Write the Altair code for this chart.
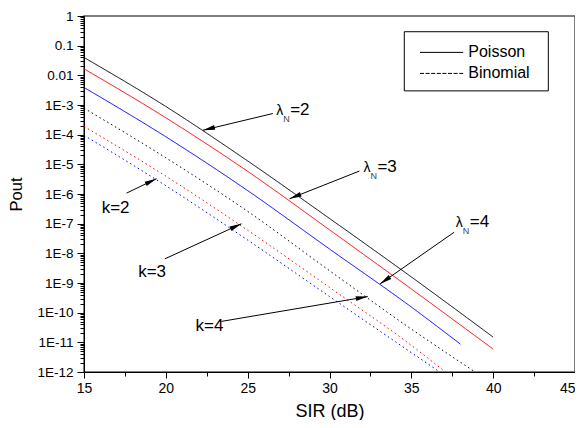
import math
import altair as alt
import pandas as pd

# ---------------- data ----------------
series_names = ["Poisson λN=2", "Poisson λN=3", "Poisson λN=4",
                "Binomial k=2", "Binomial k=3", "Binomial k=4"]
series_model = ["Poisson", "Poisson", "Poisson", "Binomial", "Binomial", "Binomial"]
series_colors = ["#000000", "#ff0000", "#0000ff", "#000000", "#ff0000", "#0000ff"]

sir_p2 = [15, 20, 25, 30, 35, 40]
pout_p2 = [4.0e-2, 8.9e-4, 1.3e-5, 1.5e-7, 1.6e-9, 1.5e-11]
sir_p3 = [15, 20, 25, 30, 35, 40]
pout_p3 = [1.66e-2, 3.7e-4, 5.8e-6, 6.2e-8, 6.3e-10, 5.9e-12]
sir_p4 = [15, 20, 25, 30, 35, 38]
pout_p4 = [3.9e-3, 8.5e-5, 1.3e-6, 1.4e-8, 1.55e-10, 8.7e-12]
sir_b2 = [15, 20, 25, 30, 35, 38.9]
pout_b2 = [7.8e-4, 1.66e-5, 2.6e-7, 2.6e-9, 2.8e-11, 1.0e-12]
sir_b3 = [15, 20, 25, 30, 35, 37]
pout_b3 = [1.9e-4, 4.0e-6, 6.0e-8, 7.1e-10, 7.9e-12, 1.1e-12]
sir_b4 = [15, 20, 25, 30, 35, 37]
pout_b4 = [9.5e-5, 1.9e-6, 2.8e-8, 3.5e-10, 4.5e-12, 8.0e-13]

sir_lists = [sir_p2, sir_p3, sir_p4, sir_b2, sir_b3, sir_b4]
pout_lists = [pout_p2, pout_p3, pout_p4, pout_b2, pout_b3, pout_b4]

x_major = [15, 20, 25, 30, 35, 40, 45]
x_minor = [17.5, 22.5, 27.5, 32.5, 37.5, 42.5]
y_major = [10.0 ** e for e in range(-12, 1)]
y_minor = [k * 10.0 ** e for e in range(-12, 0) for k in range(2, 10)]

# annotation labels (text, anchor SIR, anchor Pout)
lam_text = ["=2", "=3", "=4"]
lam_sir = [26.74, 32.07, 37.72]
lam_pout = [6.7e-4, 8.3e-6, 1.12e-7]
k_text = ["k=2", "k=3", "k=4"]
k_sir = [16.08, 18.31, 21.81]
k_pout = [3.5e-7, 2.3e-9, 3.6e-11]

# arrows: start (SIR, Pout) -> tip (SIR, Pout)
arr_sir0 = [26.54, 31.83, 37.62, 17.60, 19.94, 23.40]
arr_pout0 = [5.16e-4, 5.94e-6, 5.16e-8, 1.07e-6, 6.52e-9, 5.08e-11]
arr_sir1 = [22.27, 27.56, 33.09, 19.43, 24.62, 32.34]
arr_pout1 = [1.41e-4, 6.93e-7, 9.33e-10, 3.29e-6, 9.93e-8, 3.48e-10]

# legend box in data coordinates
leg_box_sir = [34.57, 43.37]
leg_box_pout = [2.95e-1, 2.99e-3]
leg_line_sir = [35.53, 38.17]
leg_text_sir = 38.48
leg_row_pout = [5.94e-2, 1.16e-2]
leg_labels = ["Poisson", "Binomial"]

# ---------------- layout ----------------
W, H = 491, 356
FONT = "Liberation Sans"
X_MIN, X_MAX = 15, 45
LOG_MIN, LOG_MAX = -12, 0
ppx = W / (X_MAX - X_MIN)
ppd = H / (LOG_MAX - LOG_MIN)

rows = []
for name, model, xs, ys in zip(series_names, series_model, sir_lists, pout_lists):
    for i, (x, y) in enumerate(zip(xs, ys)):
        rows.append({"series": name, "model": model, "sir": x, "pout": y, "i": i})
df = pd.DataFrame(rows)

xscale = alt.Scale(domain=[X_MIN, X_MAX], nice=False, zero=False)
yscale = alt.Scale(type="log", domain=[10.0 ** LOG_MIN, 10.0 ** LOG_MAX], nice=False)

is_decade = "abs(log(datum.value)/LN10 - round(log(datum.value)/LN10)) < 1e-6"
label_expr = ("!(" + is_decade + ") ? '' : "
              "datum.value >= 0.9 ? '1' : datum.value >= 0.09 ? '0.1' : "
              "datum.value >= 0.009 ? '0.01' : '1E' + round(log(datum.value)/LN10)")
is_x_major = "abs(datum.value/5 - round(datum.value/5)) < 1e-6"

major_x = alt.Axis(values=sorted(x_major + x_minor), title="SIR (dB)", orient="bottom",
                   tickSize={"condition": {"test": is_x_major, "value": 6}, "value": 4},
                   labelExpr="(" + is_x_major + ") ? datum.label : ''",
                   labelFontSize=14, labelPadding=3, titleFontSize=18,
                   titleFontWeight="normal", titleY=44, titleBaseline="alphabetic",
                   labelFlush=False, labelOverlap=False,
                   labelAlign={"condition": {"test": "datum.value >= 45", "value": "right"},
                               "value": "center"})
major_y = alt.Axis(values=sorted(y_major + y_minor), title="Pout", orient="left",
                   tickSize={"condition": {"test": is_decade, "value": 7}, "value": 4},
                   labelExpr=label_expr, labelFontSize=13.5, labelPadding=4,
                   titleFontSize=16.5, titleFontWeight="normal", titleAngle=270,
                   titleX=-63, titleY=H / 2, titleBaseline="alphabetic",
                   titleAlign="center", labelFlush=False, labelOverlap=False)


def X(field):
    return alt.X(field, scale=xscale, axis=major_x)


def Y(field):
    return alt.Y(field, scale=yscale, axis=major_y)


lines = alt.Chart(df).mark_line(strokeWidth=1, clip=True, interpolate="monotone").encode(
    x=X("sir:Q"),
    y=Y("pout:Q"),
    color=alt.Color("series:N", scale=alt.Scale(domain=series_names, range=series_colors), legend=None),
    strokeDash=alt.StrokeDash("model:N", scale=alt.Scale(domain=["Poisson", "Binomial"],
                                                          range=[[1, 0], [1.5, 3]]), legend=None),
    order="i:Q",
)

# arrows
arr_rows = []
for a, b, c, d in zip(arr_sir0, arr_pout0, arr_sir1, arr_pout1):
    dx = (c - a) * ppx
    dy = -(math.log10(d) - math.log10(b)) * ppd
    ang = math.degrees(math.atan2(dx, -dy)) % 360
    arr_rows.append({"x0": a, "y0": b, "x1": c, "y1": d, "ang": ang})
arr_df = pd.DataFrame(arr_rows)

arrow_lines = alt.Chart(arr_df).mark_rule(color="black", strokeWidth=1).encode(
    x=X("x0:Q"), y=Y("y0:Q"), x2="x1:Q", y2="y1:Q")
arrow_heads = alt.Chart(arr_df).mark_point(
    shape="M0,0L0.4,2L-0.4,2Z", filled=True, color="black", opacity=1, size=144, strokeWidth=0
).encode(x=X("x1:Q"), y=Y("y1:Q"), angle=alt.Angle("ang:Q", scale=None))

lam_df = pd.DataFrame({"sir": lam_sir, "pout": lam_pout, "t": lam_text})
lam_glyph = alt.Chart(lam_df).mark_text(text="λ", font=FONT, fontSize=14, align="left",
                                        baseline="middle", dy=1, color="black").encode(
    x=X("sir:Q"), y=Y("pout:Q"))
lam_sub = alt.Chart(lam_df).mark_text(text="N", font=FONT, fontSize=9, align="left",
                                      baseline="middle", dx=7, dy=9, color="#444").encode(
    x=X("sir:Q"), y=Y("pout:Q"))
lam_eq = alt.Chart(lam_df).mark_text(font=FONT, fontSize=17, align="left",
                                     baseline="middle", dx=14, color="black").encode(
    x=X("sir:Q"), y=Y("pout:Q"), text="t:N")

k_df = pd.DataFrame({"sir": k_sir, "pout": k_pout, "t": k_text})
k_lab = alt.Chart(k_df).mark_text(font=FONT, fontSize=17, align="left",
                                  baseline="middle", color="black").encode(
    x=X("sir:Q"), y=Y("pout:Q"), text="t:N")

# legend
box_df = pd.DataFrame({"x0": [leg_box_sir[0]], "x1": [leg_box_sir[1]],
                       "y0": [leg_box_pout[0]], "y1": [leg_box_pout[1]]})
leg_box = alt.Chart(box_df).mark_rect(fill="white", stroke="black", strokeWidth=1).encode(
    x=X("x0:Q"), x2="x1:Q", y=Y("y0:Q"), y2="y1:Q")
leg_df = pd.DataFrame({"x0": [leg_line_sir[0]] * 2, "x1": [leg_line_sir[1]] * 2,
                       "y": leg_row_pout, "t": leg_labels, "tx": [leg_text_sir] * 2})
leg_solid = alt.Chart(leg_df.iloc[[0]]).mark_rule(color="black", strokeWidth=1).encode(
    x=X("x0:Q"), x2="x1:Q", y=Y("y:Q"))
leg_dash = alt.Chart(leg_df.iloc[[1]]).mark_rule(color="black", strokeWidth=1,
                                                 strokeDash=[4, 1.6]).encode(
    x=X("x0:Q"), x2="x1:Q", y=Y("y:Q"))
leg_text = alt.Chart(leg_df).mark_text(font=FONT, fontSize=16, align="left",
                                       baseline="middle", color="black").encode(
    x=X("tx:Q"), y=Y("y:Q"), text="t:N")

chart = alt.layer(
    lines, arrow_lines, arrow_heads, lam_glyph, lam_sub,
    lam_eq, k_lab, leg_box, leg_solid, leg_dash, leg_text
).properties(
    width=W, height=H, autosize="none",
    padding={"left": 76, "top": 8, "right": 0, "bottom": 48},
    background="white",
).configure_view(stroke="#555555", strokeWidth=1.5).configure_axis(
    grid=False, domainColor="black", tickColor="black", labelColor="black",
    titleColor="black", labelFont=FONT, titleFont=FONT, domainWidth=1, tickWidth=1,
)

chart.save("out.html", embed_options={"renderer": "svg", "actions": False})
